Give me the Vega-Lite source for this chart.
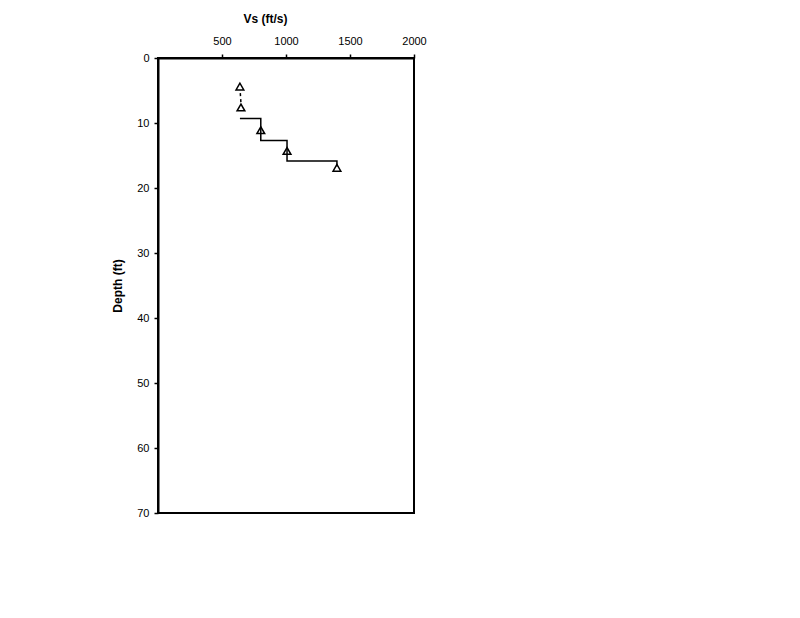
{
  "$schema": "https://vega.github.io/schema/vega-lite/v6.json",
  "width": 256,
  "height": 455,
  "autosize": "none",
  "padding": {"left": 158, "top": 58, "right": 386, "bottom": 105},
  "background": "white",
  "config": {
    "view": {"stroke": "black", "strokeWidth": 2},
    "font": "Liberation Sans",
    "axis": {"grid": false, "labelFlush": false, "labelOverlap": false, "domainColor": "black", "domainWidth": 2, "tickColor": "black", "tickSize": 4, "tickWidth": 1.5, "labelColor": "black", "labelFontSize": 11, "titleFontSize": 12, "titleFontWeight": "bold", "titleColor": "black", "labelFont": "Liberation Sans", "titleFont": "Liberation Sans"}
  },
  "datasets": {
    "points": [
      {"vs": 640, "depth": 4.4},
      {"vs": 648, "depth": 7.6},
      {"vs": 803, "depth": 11.1},
      {"vs": 1008, "depth": 14.3},
      {"vs": 1398, "depth": 16.9}
    ],
    "profile": [
      {"order": 1, "vs": 640, "depth": 9.3},
      {"order": 2, "vs": 803, "depth": 9.3},
      {"order": 3, "vs": 803, "depth": 12.7},
      {"order": 4, "vs": 1008, "depth": 12.7},
      {"order": 5, "vs": 1008, "depth": 15.85},
      {"order": 6, "vs": 1398, "depth": 15.85},
      {"order": 7, "vs": 1398, "depth": 16.7}
    ],
    "dashed": [
      {"order": 1, "vs": 643, "depth": 5.4},
      {"order": 2, "vs": 648, "depth": 6.9}
    ]
  },
  "layer": [
    {
      "data": {"name": "profile"},
      "mark": {"type": "line", "color": "black", "strokeWidth": 1.5, "interpolate": "linear"},
      "encoding": {
        "x": {"field": "vs", "type": "quantitative", "scale": {"domain": [0, 2000]},
          "axis": {"orient": "top", "title": "Vs (ft/s)", "format": "d", "values": [500, 1000, 1500, 2000], "labelPadding": 8, "titlePadding": 10, "titleX": 107}},
        "y": {"field": "depth", "type": "quantitative", "scale": {"domain": [0, 70], "reverse": true},
          "axis": {"title": "Depth (ft)", "format": "d", "values": [0, 10, 20, 30, 40, 50, 60, 70], "labelPadding": 5, "titlePadding": 12}},
        "order": {"field": "order", "type": "quantitative"}
      }
    },
    {
      "data": {"name": "dashed"},
      "mark": {"type": "line", "color": "black", "strokeWidth": 1.5, "strokeDash": [3, 3]},
      "encoding": {
        "x": {"field": "vs", "type": "quantitative"},
        "y": {"field": "depth", "type": "quantitative"},
        "order": {"field": "order", "type": "quantitative"}
      }
    },
    {
      "data": {"name": "points"},
      "mark": {"type": "point", "shape": "triangle-up", "filled": false, "color": "black", "strokeWidth": 1.5, "size": 60, "opacity": 1},
      "encoding": {
        "x": {"field": "vs", "type": "quantitative"},
        "y": {"field": "depth", "type": "quantitative"}
      }
    }
  ]
}
